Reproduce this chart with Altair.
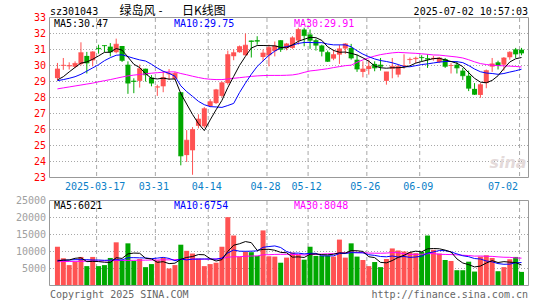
import altair as alt
import pandas as pd

# ---------------- data ----------------
days = list(range(1, 81))
opens = [29.21, 29.98, 29.95, 29.92, 30.09, 30.6, 30.32, 31.1, 31.27, 31.18,
         30.83, 31.22, 30.05, 29.05, 29.04, 29.8, 29.25, 28.63, 28.7, 29.45,
         29.17, 28.33, 24.4, 24.7, 26.23, 26.2, 27.47, 27.65, 28.1, 28.9,
         30.58, 30.83, 30.64, 31.56, 31.58, 30.53, 30.64, 30.9, 31.58, 31.08,
         31.1, 31.56, 32.25, 31.94, 31.58, 31.25, 30.83, 30.43, 30.68, 31.06,
         31.1, 30.36, 29.6, 29.78, 30.1, 30.05, 29.04, 29.8, 29.43, 29.98,
         30.34, 30.4, 30.53, 30.45, 30.4, 30.22, 30.4, 29.98, 30.05, 29.68,
         29.36, 28.54, 28.16, 28.9, 29.93, 30.2, 30.05, 30.51, 31.01, 30.99]
highs = [30.16, 30.47, 30.2, 30.26, 31.45, 30.85, 30.89, 31.3, 31.27, 31.4,
         31.68, 31.22, 30.26, 29.2, 30.05, 29.8, 29.4, 28.8, 29.66, 29.78,
         29.6, 28.33, 25.96, 26.15, 26.95, 27.4, 27.9, 28.54, 29.0, 30.93,
         31.0, 31.25, 32.0, 31.56, 31.83, 31.0, 31.3, 31.5, 31.58, 31.41,
         31.83, 32.36, 32.36, 32.25, 31.68, 31.3, 30.93, 31.0, 31.3, 31.4,
         31.35, 30.68, 30.26, 30.36, 30.26, 30.47, 29.6, 30.47, 30.05, 30.7,
         30.5, 30.55, 30.64, 30.7, 30.6, 30.53, 30.47, 30.15, 30.26, 29.85,
         29.68, 28.9, 28.9, 29.75, 30.47, 30.3, 30.53, 30.89, 31.1, 31.1]
lows = [29.07, 29.73, 29.75, 29.84, 30.0, 29.5, 29.95, 30.74, 30.83, 30.57,
        30.76, 30.22, 28.23, 28.27, 28.62, 29.0, 28.7, 28.1, 28.33, 29.1,
        29.1, 23.76, 23.97, 23.17, 26.07, 26.1, 27.4, 27.6, 28.0, 28.8,
        30.33, 30.8, 30.64, 30.5, 31.3, 30.26, 29.95, 30.57, 30.85, 30.95,
        31.04, 31.3, 31.2, 31.04, 30.93, 30.57, 30.22, 30.33, 30.1, 30.72,
        30.37, 29.6, 29.26, 29.43, 29.64, 29.68, 28.8, 29.2, 29.26, 29.8,
        30.1, 30.15, 30.26, 29.85, 30.3, 30.15, 29.85, 29.5, 29.5, 29.1,
        28.4, 28.16, 27.98, 28.58, 29.6, 29.75, 29.68, 30.36, 30.47, 30.64]
closes = [29.78, 30.02, 30.0, 30.13, 30.8, 30.16, 30.85, 31.05, 31.24, 30.85,
          31.33, 30.32, 28.9, 29.0, 29.8, 29.42, 28.9, 28.67, 29.25, 29.5,
          29.5, 24.35, 25.33, 26.0, 26.65, 27.3, 27.74, 28.48, 28.92, 30.68,
          30.8, 31.18, 31.27, 31.5, 31.52, 30.78, 31.12, 31.22, 31.01, 31.35,
          31.73, 32.25, 31.87, 31.58, 31.27, 30.89, 30.26, 30.68, 31.04, 31.35,
          30.47, 29.78, 29.78, 29.95, 29.85, 29.95, 29.6, 29.95, 29.95, 30.0,
          30.38, 30.45, 30.49, 30.4, 30.45, 30.47, 29.95, 30.0, 29.85, 29.36,
          28.58, 28.2, 28.8, 29.68, 30.1, 30.0, 30.47, 30.83, 30.72, 30.78]
ma5 = [29.10, 29.30, 29.60, 29.88, 30.15, 30.22, 30.39, 30.60, 30.82, 30.83,
       31.06, 30.96, 30.53, 30.08, 29.87, 29.49, 29.20, 29.16, 29.21, 29.15,
       29.16, 28.25, 27.59, 26.94, 26.37, 25.93, 26.60, 27.23, 27.82, 28.62,
       29.32, 30.01, 30.57, 31.09, 31.25, 31.25, 31.24, 31.23, 31.13, 31.10,
       31.29, 31.51, 31.64, 31.76, 31.74, 31.57, 31.17, 30.94, 30.83, 30.84,
       30.76, 30.66, 30.48, 30.27, 29.97, 29.86, 29.83, 29.86, 29.86, 29.89,
       29.98, 30.15, 30.25, 30.34, 30.43, 30.45, 30.35, 30.25, 30.14, 29.93,
       29.55, 29.20, 28.96, 28.92, 29.07, 29.36, 29.81, 30.22, 30.42, 30.50]
ma10 = [29.05, 29.12, 29.20, 29.30, 29.45, 29.65, 29.85, 30.05, 30.30, 30.49,
        30.64, 30.67, 30.56, 30.45, 30.35, 30.28, 30.08, 29.84, 29.64, 29.51,
        29.33, 28.73, 28.37, 28.07, 27.76, 27.55, 27.43, 27.41, 27.38, 27.50,
        27.63, 28.31, 28.90, 29.45, 29.94, 30.29, 30.63, 30.90, 31.11, 31.18,
        31.27, 31.38, 31.44, 31.44, 31.42, 31.43, 31.34, 31.29, 31.29, 31.29,
        31.17, 30.92, 30.71, 30.55, 30.41, 30.31, 30.25, 30.17, 30.06, 29.93,
        29.92, 29.99, 30.06, 30.10, 30.16, 30.21, 30.25, 30.25, 30.24, 30.18,
        30.00, 29.78, 29.61, 29.53, 29.50, 29.45, 29.50, 29.59, 29.67, 29.77]
ma30 = [28.54, 28.60, 28.66, 28.72, 28.78, 28.84, 28.90, 28.98, 29.05, 29.12,
        29.20, 29.28, 29.35, 29.40, 29.44, 29.48, 29.52, 29.55, 29.58, 29.60,
        29.60, 29.50, 29.42, 29.33, 29.25, 29.18, 29.14, 29.12, 29.12, 29.16,
        29.20, 29.24, 29.28, 29.32, 29.35, 29.37, 29.38, 29.38, 29.38, 29.39,
        29.41, 29.47, 29.57, 29.66, 29.70, 29.75, 29.80, 29.87, 29.93, 29.99,
        30.02, 30.20, 30.35, 30.48, 30.59, 30.68, 30.74, 30.79, 30.82, 30.80,
        30.78, 30.76, 30.73, 30.70, 30.66, 30.65, 30.61, 30.57, 30.53, 30.47,
        30.36, 30.23, 30.12, 30.06, 30.02, 29.99, 29.98, 29.96, 29.94, 29.91]
volumes = [11400, 8000, 6000, 7000, 8400, 5700, 8400, 5700, 6000, 8100,
           12700, 7300, 12400, 7200, 7800, 5400, 6300, 7400, 8100, 5000,
           6000, 12000, 10200, 9400, 7900, 5700, 6300, 6700, 11400, 20100,
           14700, 8500, 9900, 9800, 8700, 16200, 8600, 8500, 6700, 8200,
           9700, 9000, 7600, 11400, 8700, 8700, 8700, 8500, 13500, 8200,
           12400, 8500, 7500, 5700, 6900, 5400, 7800, 10900, 10300, 10000,
           9800, 9500, 9900, 14700, 10500, 9400, 7500, 7200, 4500, 4500,
           7000, 4100, 8500, 8900, 8100, 4200, 5400, 7700, 8400, 4000]
vma5 = [7200, 7500, 7500, 8000, 8160, 7020, 7100, 7040, 6840, 6780,
        8180, 7960, 9300, 9540, 9480, 8020, 7820, 6820, 7000, 6440,
        6560, 7700, 8260, 8520, 9100, 9040, 7900, 7200, 7600, 10040,
        11840, 12280, 12920, 12600, 10320, 10620, 10640, 10360, 9740, 9640,
        8340, 8420, 8240, 9180, 9280, 9080, 9020, 9200, 9620, 9520,
        10260, 10220, 10020, 8460, 8200, 6800, 6660, 7340, 8260, 8880,
        9760, 10100, 9900, 10780, 10880, 10800, 10400, 9860, 7820, 6620,
        6140, 5460, 5720, 6600, 7320, 6760, 7020, 6860, 6760, 6021]
vma10 = [7400, 7400, 7500, 7600, 7600, 7600, 7500, 7500, 7400, 7470,
         7600, 7530, 8170, 8190, 8130, 8100, 7890, 8060, 8270, 7960,
         7290, 7760, 7540, 7760, 7770, 7800, 7800, 7730, 8060, 9570,
         10440, 10090, 10060, 10100, 10180, 11230, 11460, 11640, 11170, 9980,
         9480, 9530, 9300, 9460, 9460, 8710, 8720, 8720, 9400, 9400,
         9670, 9620, 9610, 9040, 8860, 8530, 8440, 8680, 8360, 8540,
         8280, 8380, 8620, 9520, 9880, 10280, 10250, 9880, 9300, 8750,
         8470, 7930, 7790, 7210, 6970, 6450, 6240, 6290, 6680, 6754]
vma30 = [7000, 7050, 7050, 7100, 7100, 7150, 7200, 7200, 7250, 7300,
         7350, 7350, 7400, 7400, 7450, 7450, 7500, 7500, 7550, 7550,
         7600, 7650, 7700, 7700, 7750, 7750, 7750, 7800, 7950, 8333,
         8443, 8460, 8590, 8683, 8693, 9043, 9050, 9143, 9167, 9170,
         9070, 9127, 8967, 9107, 9137, 9247, 9327, 9363, 9543, 9650,
         9863, 9747, 9657, 9533, 9500, 9490, 9540, 9680, 9643, 9307,
         9143, 9177, 9177, 9340, 9400, 9173, 9137, 9093, 9020, 8897,
         8807, 8643, 8673, 8590, 8570, 8420, 8310, 8283, 8113, 8048]

date_labels = ["2025-03-17", "03-31", "04-14", "04-28", "05-12", "05-26", "06-09", "07-02"]
date_days = [8, 18, 27, 37, 44, 54, 63, 80]
price_ticks = [23, 24, 25, 26, 27, 28, 29, 30, 31, 32, 33]
vol_ticks = [5000, 10000, 15000, 20000, 25000]

legend_price = ["MA5:30.47", "MA10:29.75", "MA30:29.91"]
legend_vol = ["MA5:6021", "MA10:6754", "MA30:8048"]

# ---------------- styling ----------------
RED = "#FF5252"
GREEN = "#00A800"
BLUE = "#0000FF"
MAG = "#FF00FF"
GRID = "#A8A8A8"
FRAME = "#999999"
DATEC = "#0A80C8"
MONO = "DejaVu Sans Mono"
CJK = "Noto Sans CJK SC"

df = pd.DataFrame({"i": days, "o": opens, "h": highs, "l": lows, "c": closes,
                   "ma5": ma5, "ma10": ma10, "ma30": ma30,
                   "v": volumes, "vma5": vma5, "vma10": vma10, "vma30": vma30})
dates = pd.DataFrame({"d": date_days, "lab": date_labels})
dates["anchor"] = ["center"] * (len(date_days) - 1) + ["right"]
ptick = pd.DataFrame({"p": price_ticks})
vtick = pd.DataFrame({"p": vol_ticks})
one = pd.DataFrame({"k": [0]})

X = alt.Scale(domain=[0.5833, 80.25], range=[50, 528])
PY = alt.Scale(domain=[23, 33], range=[177.5, 17.5], zero=False, nice=False)
VY = alt.Scale(domain=[0, 25000], range=[285.5, 200.5], zero=False, nice=False)

xi = alt.X("i:Q", scale=X, axis=None)
up = "datum.c >= datum.o"
col = alt.condition(up, alt.value(RED), alt.value(GREEN))

layers = []

# backgrounds of panels
for y1, y2 in [(17.5, 177.5), (200.5, 285.5)]:
    layers.append(alt.Chart(one).mark_rect(fill="white", strokeWidth=0).encode(
        x=alt.value(49.5), x2=alt.value(528.5), y=alt.value(y1), y2=alt.value(y2)))

# horizontal dotted grid
layers.append(alt.Chart(ptick).transform_filter("datum.p > 23 && datum.p < 33").mark_rule(
    color=GRID, strokeDash=[1, 2], strokeWidth=1).encode(
    y=alt.Y("p:Q", scale=PY, axis=None), x=alt.value(50), x2=alt.value(528)))
layers.append(alt.Chart(vtick).transform_filter("datum.p < 25000").mark_rule(
    color=GRID, strokeDash=[1, 2], strokeWidth=1).encode(
    y=alt.Y("p:Q", scale=VY, axis=None), x=alt.value(50), x2=alt.value(528)))

# vertical dashed grid
gx = alt.X("gx:Q", scale=X, axis=None)
for y1, y2 in [(18, 177), (201, 285)]:
    layers.append(alt.Chart(dates).transform_calculate(gx="datum.d - 1/3").mark_rule(
        color=GRID, strokeDash=[4, 3], strokeWidth=1).encode(
        x=gx, y=alt.value(y1), y2=alt.value(y2)))

# candles
base = alt.Chart(df)
layers.append(base.mark_rule(strokeWidth=1).encode(
    x=xi, y=alt.Y("l:Q", scale=PY, axis=None), y2="h:Q", color=col))
layers.append(base.mark_bar(width=5).encode(
    x=xi, y=alt.Y("o:Q", scale=PY, axis=None), y2="c:Q", color=col))
layers.append(base.mark_tick(orient="horizontal", size=5, thickness=1).encode(
    x=xi, y=alt.Y("c:Q", scale=PY, axis=None), color=col))

# price moving averages
for f, cc in [("ma30", MAG), ("ma10", BLUE), ("ma5", "black")]:
    layers.append(base.mark_line(color=cc, strokeWidth=1).encode(
        x=xi, y=alt.Y(f + ":Q", scale=PY, axis=None)))

# volume bars
layers.append(base.mark_bar(width=5).encode(
    x=xi, y=alt.Y("v:Q", scale=VY, axis=None), y2=alt.datum(0), color=col))
for f, cc in [("vma30", MAG), ("vma10", BLUE), ("vma5", "black")]:
    layers.append(base.mark_line(color=cc, strokeWidth=1).encode(
        x=xi, y=alt.Y(f + ":Q", scale=VY, axis=None)))

# frames
for y1, y2 in [(17.5, 177.5), (200.5, 285.5)]:
    layers.append(alt.Chart(one).mark_rect(fillOpacity=0, stroke=FRAME, strokeWidth=1).encode(
        x=alt.value(49.5), x2=alt.value(528.5), y=alt.value(y1), y2=alt.value(y2)))

# axis labels
layers.append(alt.Chart(ptick).mark_text(align="right", baseline="middle", font=MONO,
                                         fontSize=10, color="#FF0000").encode(
    y=alt.Y("p:Q", scale=PY, axis=None), x=alt.value(46), text="p:Q"))
layers.append(alt.Chart(vtick).mark_text(align="right", baseline="middle", font=MONO,
                                         fontSize=10, color="#A0A0A0").encode(
    y=alt.Y("p:Q", scale=VY, axis=None), x=alt.value(46), text="p:Q"))
for anc in ["center", "right"]:
    layers.append(alt.Chart(dates).transform_filter(f"datum.anchor == '{anc}'").transform_calculate(
        gx="datum.d - 1/3").mark_text(align=anc, baseline="middle", font=MONO, fontSize=10,
                                      color=DATEC, dx=-1.5).encode(
        x=gx, y=alt.value(186.5), text="lab:N"))

# legends
leg_x = [54, 174, 294]
leg_c = ["black", BLUE, MAG]
for lab_list, yy in [(legend_price, 23.5), (legend_vol, 205.5)]:
    for t, xx, cc in zip(lab_list, leg_x, leg_c):
        layers.append(alt.Chart(one).mark_text(align="left", baseline="middle", font=MONO,
                                               fontSize=10, color=cc, text=t).encode(
            x=alt.value(xx), y=alt.value(yy)))

# header and footer
def txt(t, xx, yy, align="left", font=MONO, size=10, color="black", **kw):
    return alt.Chart(one).mark_text(align=align, baseline="middle", font=font, fontSize=size,
                                    color=color, text=t, **kw).encode(x=alt.value(xx), y=alt.value(yy))

layers.append(txt("sz301043", 50, 11.5))
layers.append(txt("绿岛风", 119.5, 11, font=CJK, size=12))
layers.append(txt("-", 160.5, 11, align="center", font=MONO, size=11))
layers.append(txt("日K线图", 182, 11, font=CJK, size=12))
layers.append(txt("2025-07-02 10:57:03", 528, 11.5, align="right"))
layers.append(txt("Copyright 2025 SINA.COM", 50, 294.5, color="#666666"))
layers.append(txt("http://finance.sina.com.cn", 528, 294.5, align="right", color="#666666"))
layers.append(txt("sina", 508, 163, align="center", font="DejaVu Sans", size=16,
                  color="#E4DADA", fontStyle="italic", fontWeight="bold"))

chart = alt.layer(*layers).resolve_scale(y="independent").properties(
    width=545, height=300, autosize=alt.AutoSizeParams(type="none"), padding=0,
    background="white").configure_view(stroke=None)

chart.save("out.html", embed_options={"renderer": "svg", "actions": False})
